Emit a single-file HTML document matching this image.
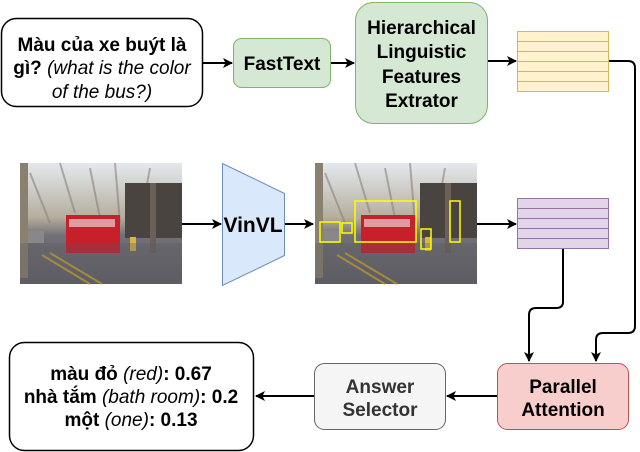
<!DOCTYPE html>
<html><head><meta charset="utf-8"><style>
body{margin:0;background:#fff;width:640px;height:452px;overflow:hidden}
svg{display:block}
text{font-family:"Liberation Sans","Noto Sans CJK SC",sans-serif}
</style></head><body>
<svg width="640" height="452" viewBox="0 0 640 452">
<defs>
<marker id="a" markerWidth="10" markerHeight="10" refX="9" refY="5" orient="auto" markerUnits="userSpaceOnUse"><path d="M0,0 L10,5 L0,10 L2.5,5 Z" fill="#000"/></marker>
<linearGradient id="img" x1="0" y1="0" x2="0" y2="1">
<stop offset="0" stop-color="#e4e8ee"/><stop offset="0.45" stop-color="#b5ae9e"/><stop offset="0.6" stop-color="#707076"/><stop offset="1" stop-color="#606066"/></linearGradient>
<g id="photo">
<rect width="162" height="121" fill="url(#img)"/>
<path d="M10,10 L30,60 M40,0 L55,50 M70,5 L80,55 M95,0 L100,60 M130,5 L120,60" stroke="#8a8278" stroke-width="2" opacity="0.6"/>
<rect x="105" y="20" width="57" height="55" fill="#4a4440"/>
<rect x="0" y="0" width="8" height="115" fill="#8a8070"/>
<rect x="130" y="20" width="6" height="70" fill="#6a6058"/>
<rect x="46" y="52" width="54" height="38" fill="#c8202a"/>
<rect x="49" y="56" width="46" height="8" fill="#eee" opacity="0.6"/>
<rect x="8" y="68" width="16" height="12" fill="#888"/>
<rect x="110" y="74" width="6" height="14" fill="#d6b640"/>
<path d="M22,92 L70,121 M30,90 L82,121" stroke="#c8a030" stroke-width="2"/>
<rect x="0" y="80" width="162" height="41" fill="#55555c" opacity="0.3"/>
</g>
</defs>
<!-- question -->
<rect x="1.5" y="18.5" width="201" height="88" rx="15" fill="#fff" stroke="#000" stroke-width="1.5"/>
<g font-size="19" text-anchor="middle">
<text x="102" y="51" font-weight="bold">Màu của xe buýt là</text>
<text x="102" y="74"><tspan font-weight="bold">gì?</tspan> <tspan font-style="italic">(what is the color</tspan></text>
<text x="102" y="98" font-style="italic">of the bus?)</text>
</g>
<!-- FastText -->
<rect x="233.5" y="38.5" width="97" height="49" rx="8" fill="#d5e8d4" stroke="#82b366"/>
<text x="282" y="70" text-anchor="middle" font-size="19" font-weight="bold">FastText</text>
<rect x="355.5" y="2.5" width="132" height="121" rx="18" fill="#d5e8d4" stroke="#82b366"/>
<g font-size="19" font-weight="bold" text-anchor="middle">
<text x="421.5" y="34">Hierarchical</text><text x="421.5" y="58">Linguistic</text><text x="421.5" y="83">Features</text><text x="421.5" y="107">Extrator</text></g>
<line x1="203" y1="63" x2="232" y2="63" stroke="#000" stroke-width="2" marker-end="url(#a)"/>
<line x1="331" y1="63" x2="354" y2="63" stroke="#000" stroke-width="2" marker-end="url(#a)"/>
<line x1="488" y1="61" x2="516" y2="61" stroke="#000" stroke-width="2" marker-end="url(#a)"/>
<!-- yellow stack -->
<g fill="#fff2cc" stroke="#d6b656">
<rect x="517.5" y="31.5" width="91" height="10"/><rect x="517.5" y="41.5" width="91" height="10"/><rect x="517.5" y="51.5" width="91" height="10"/><rect x="517.5" y="61.5" width="91" height="10"/><rect x="517.5" y="71.5" width="91" height="10"/><rect x="517.5" y="81.5" width="91" height="10"/></g>
<!-- images -->
<use href="#photo" x="20" y="163"/>
<use href="#photo" x="315" y="163"/>
<g fill="none" stroke="#ff0" stroke-width="1.5">
<rect x="320" y="222" width="20" height="20"/><rect x="342" y="223" width="10" height="10"/><rect x="355" y="201" width="61" height="41"/><rect x="421" y="229" width="10" height="20"/><rect x="450" y="201" width="10" height="41"/></g>
<path d="M222.5,163.5 L284.5,193.5 L284.5,255.5 L222.5,285.5 Z" fill="#dae8fc" stroke="#6c8ebf"/>
<text x="253" y="232" text-anchor="middle" font-size="21" font-weight="bold">VinVL</text>
<line x1="182" y1="224" x2="221" y2="224" stroke="#000" stroke-width="2" marker-end="url(#a)"/>
<line x1="285" y1="224" x2="313" y2="224" stroke="#000" stroke-width="2" marker-end="url(#a)"/>
<line x1="477" y1="224" x2="516" y2="224" stroke="#000" stroke-width="2" marker-end="url(#a)"/>
<g fill="#e1d5e7" stroke="#9673a6">
<rect x="517.5" y="198.5" width="91" height="10"/><rect x="517.5" y="208.5" width="91" height="10"/><rect x="517.5" y="218.5" width="91" height="10"/><rect x="517.5" y="228.5" width="91" height="10"/><rect x="517.5" y="238.5" width="91" height="10"/></g>
<!-- connectors -->
<path d="M609,61 L628,61 Q635,61 635,68 L635,326 Q635,333 628,333 L603,333 Q596,333 596,340 L596,361" fill="none" stroke="#000" stroke-width="2" marker-end="url(#a)"/>
<path d="M563,249 L563,302 Q563,308 556,308 L536,308 Q529,308 529,315 L529,361" fill="none" stroke="#000" stroke-width="2" marker-end="url(#a)"/>
<!-- bottom -->
<rect x="497.5" y="363.5" width="131" height="66" rx="10" fill="#f8cecc" stroke="#b85450"/>
<text x="563" y="393" text-anchor="middle" font-size="19" font-weight="bold">Parallel</text>
<text x="563" y="416" text-anchor="middle" font-size="19" font-weight="bold">Attention</text>
<rect x="314.5" y="363.5" width="131" height="66" rx="10" fill="#f5f5f5" stroke="#666"/>
<text x="380" y="393" text-anchor="middle" font-size="19" font-weight="bold" fill="#333">Answer</text>
<text x="380" y="416" text-anchor="middle" font-size="19" font-weight="bold" fill="#333">Selector</text>
<line x1="497" y1="396" x2="447" y2="396" stroke="#000" stroke-width="2" marker-end="url(#a)"/>
<line x1="314" y1="396" x2="256" y2="396" stroke="#000" stroke-width="2" marker-end="url(#a)"/>
<rect x="9.5" y="342.5" width="244" height="108" rx="15" fill="#fff" stroke="#000" stroke-width="1.5"/>
<g font-size="19" text-anchor="middle">
<text x="131" y="380"><tspan font-weight="bold">màu đỏ</tspan> <tspan font-style="italic">(red)</tspan><tspan font-weight="bold">: 0.67</tspan></text>
<text x="131" y="403"><tspan font-weight="bold">nhà tắm</tspan> <tspan font-style="italic">(bath room)</tspan><tspan font-weight="bold">: 0.2</tspan></text>
<text x="131" y="426"><tspan font-weight="bold">một</tspan> <tspan font-style="italic">(one)</tspan><tspan font-weight="bold">: 0.13</tspan></text>
</g>
</svg>
</body></html>
